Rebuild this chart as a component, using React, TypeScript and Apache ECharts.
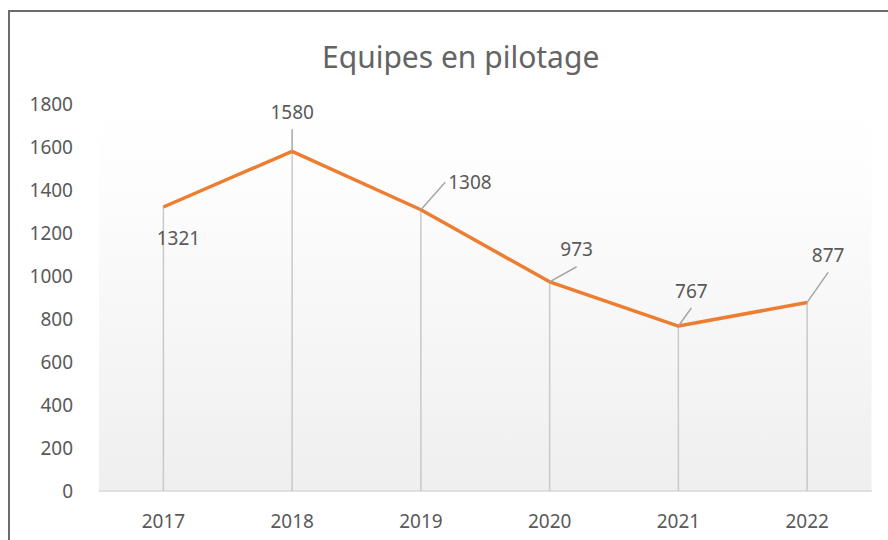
import React, { useEffect, useRef } from "react";
import * as echarts from "echarts";

const years = ["2017", "2018", "2019", "2020", "2021", "2022"];
const equipes = [1321, 1580, 1308, 973, 767, 877];
const titleText = "Equipes en pilotage";

// label offsets (layout only)
const labelOffsets = [
  { dx: 15, dy: 54, line: false },
  { dx: 0, dy: -17, line: true },
  { dx: 49, dy: -5, line: true },
  { dx: 27, dy: -10, line: true },
  { dx: 13, dy: -13, line: true },
  { dx: 21, dy: -25, line: true },
];

export default function App() {
  const ref = useRef<HTMLDivElement>(null);
  useEffect(() => {
    if (!ref.current) return;
    const chart = echarts.init(ref.current, null, { renderer: "svg" });
    const font = "'Noto Sans', 'Open Sans', sans-serif";
    const lineData = equipes.map((v, i) => ({
      value: v,
      labelLine: { show: labelOffsets[i].line },
    }));
    chart.setOption({
      animation: false,
      backgroundColor: "#ffffff",
      title: {
        text: titleText,
        left: 317,
        top: 36,
        textStyle: {
          fontFamily: font,
          fontSize: 30,
          fontWeight: "normal",
          color: "#646464",
        },
      },
      graphic: [
        {
          type: "rect",
          shape: { x: 9, y: 11, width: 900, height: 560 },
          style: { fill: "none", stroke: "#6b6b6b", lineWidth: 2 },
          z: 100,
          silent: true,
        },
      ],
      grid: {
        left: 99,
        right: 16.5,
        top: 104,
        bottom: 49,
        show: true,
        borderWidth: 0,
        backgroundColor: new echarts.graphic.LinearGradient(0, 0, 0, 1, [
          { offset: 0, color: "#ffffff" },
          { offset: 0.2, color: "#fdfdfd" },
          { offset: 1, color: "#efefef" },
        ]),
      },
      xAxis: {
        type: "category",
        data: years,
        boundaryGap: true,
        axisLine: { show: true, lineStyle: { color: "#d9d9d9", width: 1.5 } },
        axisTick: { show: false },
        axisLabel: {
          margin: 20,
          fontFamily: font,
          fontSize: 19,
          color: "#595959",
        },
      },
      yAxis: {
        type: "value",
        min: 0,
        max: 1800,
        interval: 200,
        axisLine: { show: false },
        axisTick: { show: false },
        splitLine: { show: false },
        axisLabel: {
          margin: 26,
          fontFamily: font,
          fontSize: 19,
          color: "#595959",
          formatter: (v: number) => String(v),
        },
      },
      series: [
        {
          type: "bar",
          data: equipes,
          barWidth: 1.5,
          itemStyle: { color: "#c9c9c9" },
          silent: true,
          z: 1,
        },
        {
          type: "line",
          data: lineData,
          showSymbol: true,
          symbol: "circle",
          symbolSize: 0.1,
          itemStyle: { color: "#ED7D31" },
          lineStyle: { color: "#ED7D31", width: 3.5 },
          z: 3,
          label: {
            show: true,
            position: "top",
            distance: 5,
            padding: [8, 3, 8, 3],
            backgroundColor: "rgba(255,255,255,0)",
            fontFamily: font,
            fontSize: 19,
            color: "#595959",
            formatter: (p: any) => String(p.value),
          },
          labelLine: {
            show: true,
            lineStyle: { color: "#a6a6a6", width: 1.5 },
          },
          labelLayout: (params: any) => {
            const o = labelOffsets[params.dataIndex] || { dx: 0, dy: 0 };
            return { dx: o.dx, dy: o.dy };
          },
        },
      ],
    });
    return () => chart.dispose();
  }, []);
  return (
    <div
      ref={ref}
      style={{ position: "absolute", left: 0, top: 0, width: 888, height: 540 }}
    />
  );
}
